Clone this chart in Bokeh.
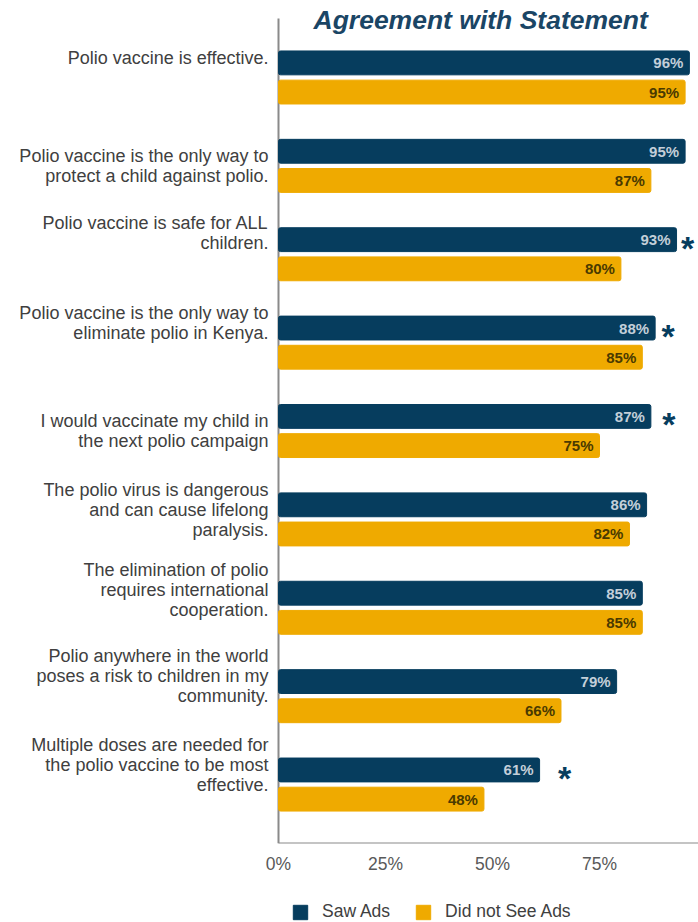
from bokeh.plotting import figure
from bokeh.layouts import column
from bokeh.models import (ColumnDataSource, Range1d, FixedTicker, PrintfTickFormatter,
                          Label, Legend, LegendItem)
from bokeh.core.properties import value
from bokeh.embed import file_html
from bokeh.resources import INLINE

# ---------------- data ----------------
statements = [
    "Polio vaccine is effective.",
    "Polio vaccine is the only way to\nprotect a child against polio.",
    "Polio vaccine is safe for ALL\nchildren.",
    "Polio vaccine is the only way to\neliminate polio in Kenya.",
    "I would vaccinate my child in\nthe next polio campaign",
    "The polio virus is dangerous\nand can cause lifelong\nparalysis.",
    "The elimination of polio\nrequires international\ncooperation.",
    "Polio anywhere in the world\nposes a risk to children in my\ncommunity.",
    "Multiple doses are needed for\nthe polio vaccine to be most\neffective.",
]
saw_ads = [96, 95, 93, 88, 87, 86, 85, 79, 61]
did_not_see_ads = [95, 87, 80, 85, 75, 82, 85, 66, 48]
significant = [False, False, True, True, True, False, False, False, True]
x_ticks = [0, 25, 50, 75]
series_names = ["Saw Ads", "Did not See Ads"]
title_text = "Agreement with Statement"

# ---------------- style / layout ----------------
NAVY = "#063d5e"
GOLD = "#efaa00"
AXIS_GRAY = "#8a8a8a"
TEXT_GRAY = "#404040"
FONT = "Liberation Sans"
BAR_H = 0.27
SHIFT = 0.165
W = 698
PX_PER_PCT = 4.28          # horizontal scale
ZERO_PX = 278              # where 0% sits
PAD = 0.667                # empty space above first / below last group (category units)
TOP_EXTRA = 0.204          # room for the title above the axis top
label_dy = [19, 0, 21, 20, 0, 9, 18, 20, 20]   # vertical nudge of statement labels (px, up)
star_dx = [11, 13, 18, 25]                      # gap between bar end and asterisk (px)

n = len(statements)
idx = list(range(n))
x_start = -ZERO_PX / PX_PER_PCT
x_end = (W - ZERO_PX) / PX_PER_PCT
y_axis_top = -PAD
y_axis_bottom = n - 1 + PAD

saw_src = ColumnDataSource(dict(
    y=[i - SHIFT for i in idx], v=saw_ads, t=[f"{v}%" for v in saw_ads]))
not_src = ColumnDataSource(dict(
    y=[i + SHIFT for i in idx], v=did_not_see_ads, t=[f"{v}%" for v in did_not_see_ads]))
sig_i = [i for i in idx if significant[i]]
star_src = ColumnDataSource(dict(
    x=[saw_ads[i] for i in sig_i], y=[i - SHIFT for i in sig_i],
    t=["*"] * len(sig_i), dx=star_dx))
cat_src = ColumnDataSource(dict(x=[0] * n, y=idx, t=statements,
                                dy=[-d for d in label_dy]))

p = figure(width=W, height=880, x_range=Range1d(x_start, x_end),
           y_range=Range1d(y_axis_bottom, y_axis_top - TOP_EXTRA),
           output_backend="svg", toolbar_location=None,
           min_border_left=0, min_border_right=0, min_border_top=0,
           min_border_bottom=37)
p.outline_line_color = None
p.xgrid.visible = False
p.ygrid.visible = False
p.yaxis.visible = False

# axis lines (left and bottom of the bar area)
p.segment(x0=[0, 0], y0=[y_axis_top, y_axis_bottom], x1=[0, x_end],
          y1=[y_axis_bottom, y_axis_bottom], line_color=AXIS_GRAY, line_width=2)

r1 = p.hbar(y="y", left=0, right="v", height=BAR_H, source=saw_src,
            fill_color=NAVY, line_color=NAVY, border_radius=2)
r2 = p.hbar(y="y", left=0, right="v", height=BAR_H, source=not_src,
            fill_color=GOLD, line_color=GOLD, border_radius=2)

p.text(x="v", y="y", text="t", source=saw_src, x_offset=-6,
       text_align="right", text_baseline="middle",
       text_font=value(FONT), text_font_style="bold", text_font_size="15px",
       text_color="#c3cfd9")
p.text(x="v", y="y", text="t", source=not_src, x_offset=-6,
       text_align="right", text_baseline="middle",
       text_font=value(FONT), text_font_style="bold", text_font_size="15px",
       text_color="#4a3a00")

p.text(x="x", y="y", text="t", source=star_src, x_offset="dx",
       y_offset=8, text_align="center", text_baseline="middle",
       text_font=value(FONT), text_font_style="bold", text_font_size="34px",
       text_color=NAVY)

p.text(x="x", y="y", text="t", source=cat_src, x_offset=-10, y_offset="dy",
       text_align="right", text_baseline="middle",
       text_font=value(FONT), text_font_size="18px",
       text_color=TEXT_GRAY, text_line_height=1.0)

title = Label(x=0, y=y_axis_top, x_offset=35, y_offset=-1, text=title_text,
              text_font=FONT, text_font_style="bold italic",
              text_font_size="26.5px", text_color="#1a4565",
              text_baseline="alphabetic", text_align="left")
p.add_layout(title)

# x axis
p.xaxis.ticker = FixedTicker(ticks=x_ticks)
p.xaxis.formatter = PrintfTickFormatter(format="%d%%")
p.xaxis.major_tick_line_color = None
p.xaxis.minor_tick_line_color = None
p.xaxis.axis_line_color = None
p.xaxis.major_label_standoff = 4
p.xaxis.major_label_text_font = FONT
p.xaxis.major_label_text_font_size = "17.5px"
p.xaxis.major_label_text_color = "#595959"

# legend in its own strip below (proxy bars lie entirely outside this strip's ranges)
lf = figure(width=W, height=42, x_range=Range1d(-300, -200), y_range=Range1d(-300, -200),
            output_backend="svg", toolbar_location=None,
            min_border_left=0, min_border_right=0, min_border_top=0, min_border_bottom=0)
lf.outline_line_color = None
lf.axis.visible = False
lf.grid.visible = False
l1 = lf.hbar(y="y", right="v", left=0, height=BAR_H, source=saw_src,
             fill_color=NAVY, line_color=NAVY)
l2 = lf.hbar(y="y", right="v", left=0, height=BAR_H, source=not_src,
             fill_color=GOLD, line_color=GOLD)
legend = Legend(items=[LegendItem(label=series_names[0], renderers=[l1]),
                       LegendItem(label=series_names[1], renderers=[l2])],
                orientation="horizontal", location=(291, 0),
                glyph_width=18, glyph_height=18, label_standoff=13, spacing=24,
                padding=0, margin=0, border_line_color=None,
                label_text_font=FONT, label_text_font_size="17.5px",
                label_text_color=TEXT_GRAY, background_fill_alpha=0)
lf.add_layout(legend, "center")

layout = column(p, lf, spacing=0)
open("out.html", "w").write(file_html(layout, INLINE))
